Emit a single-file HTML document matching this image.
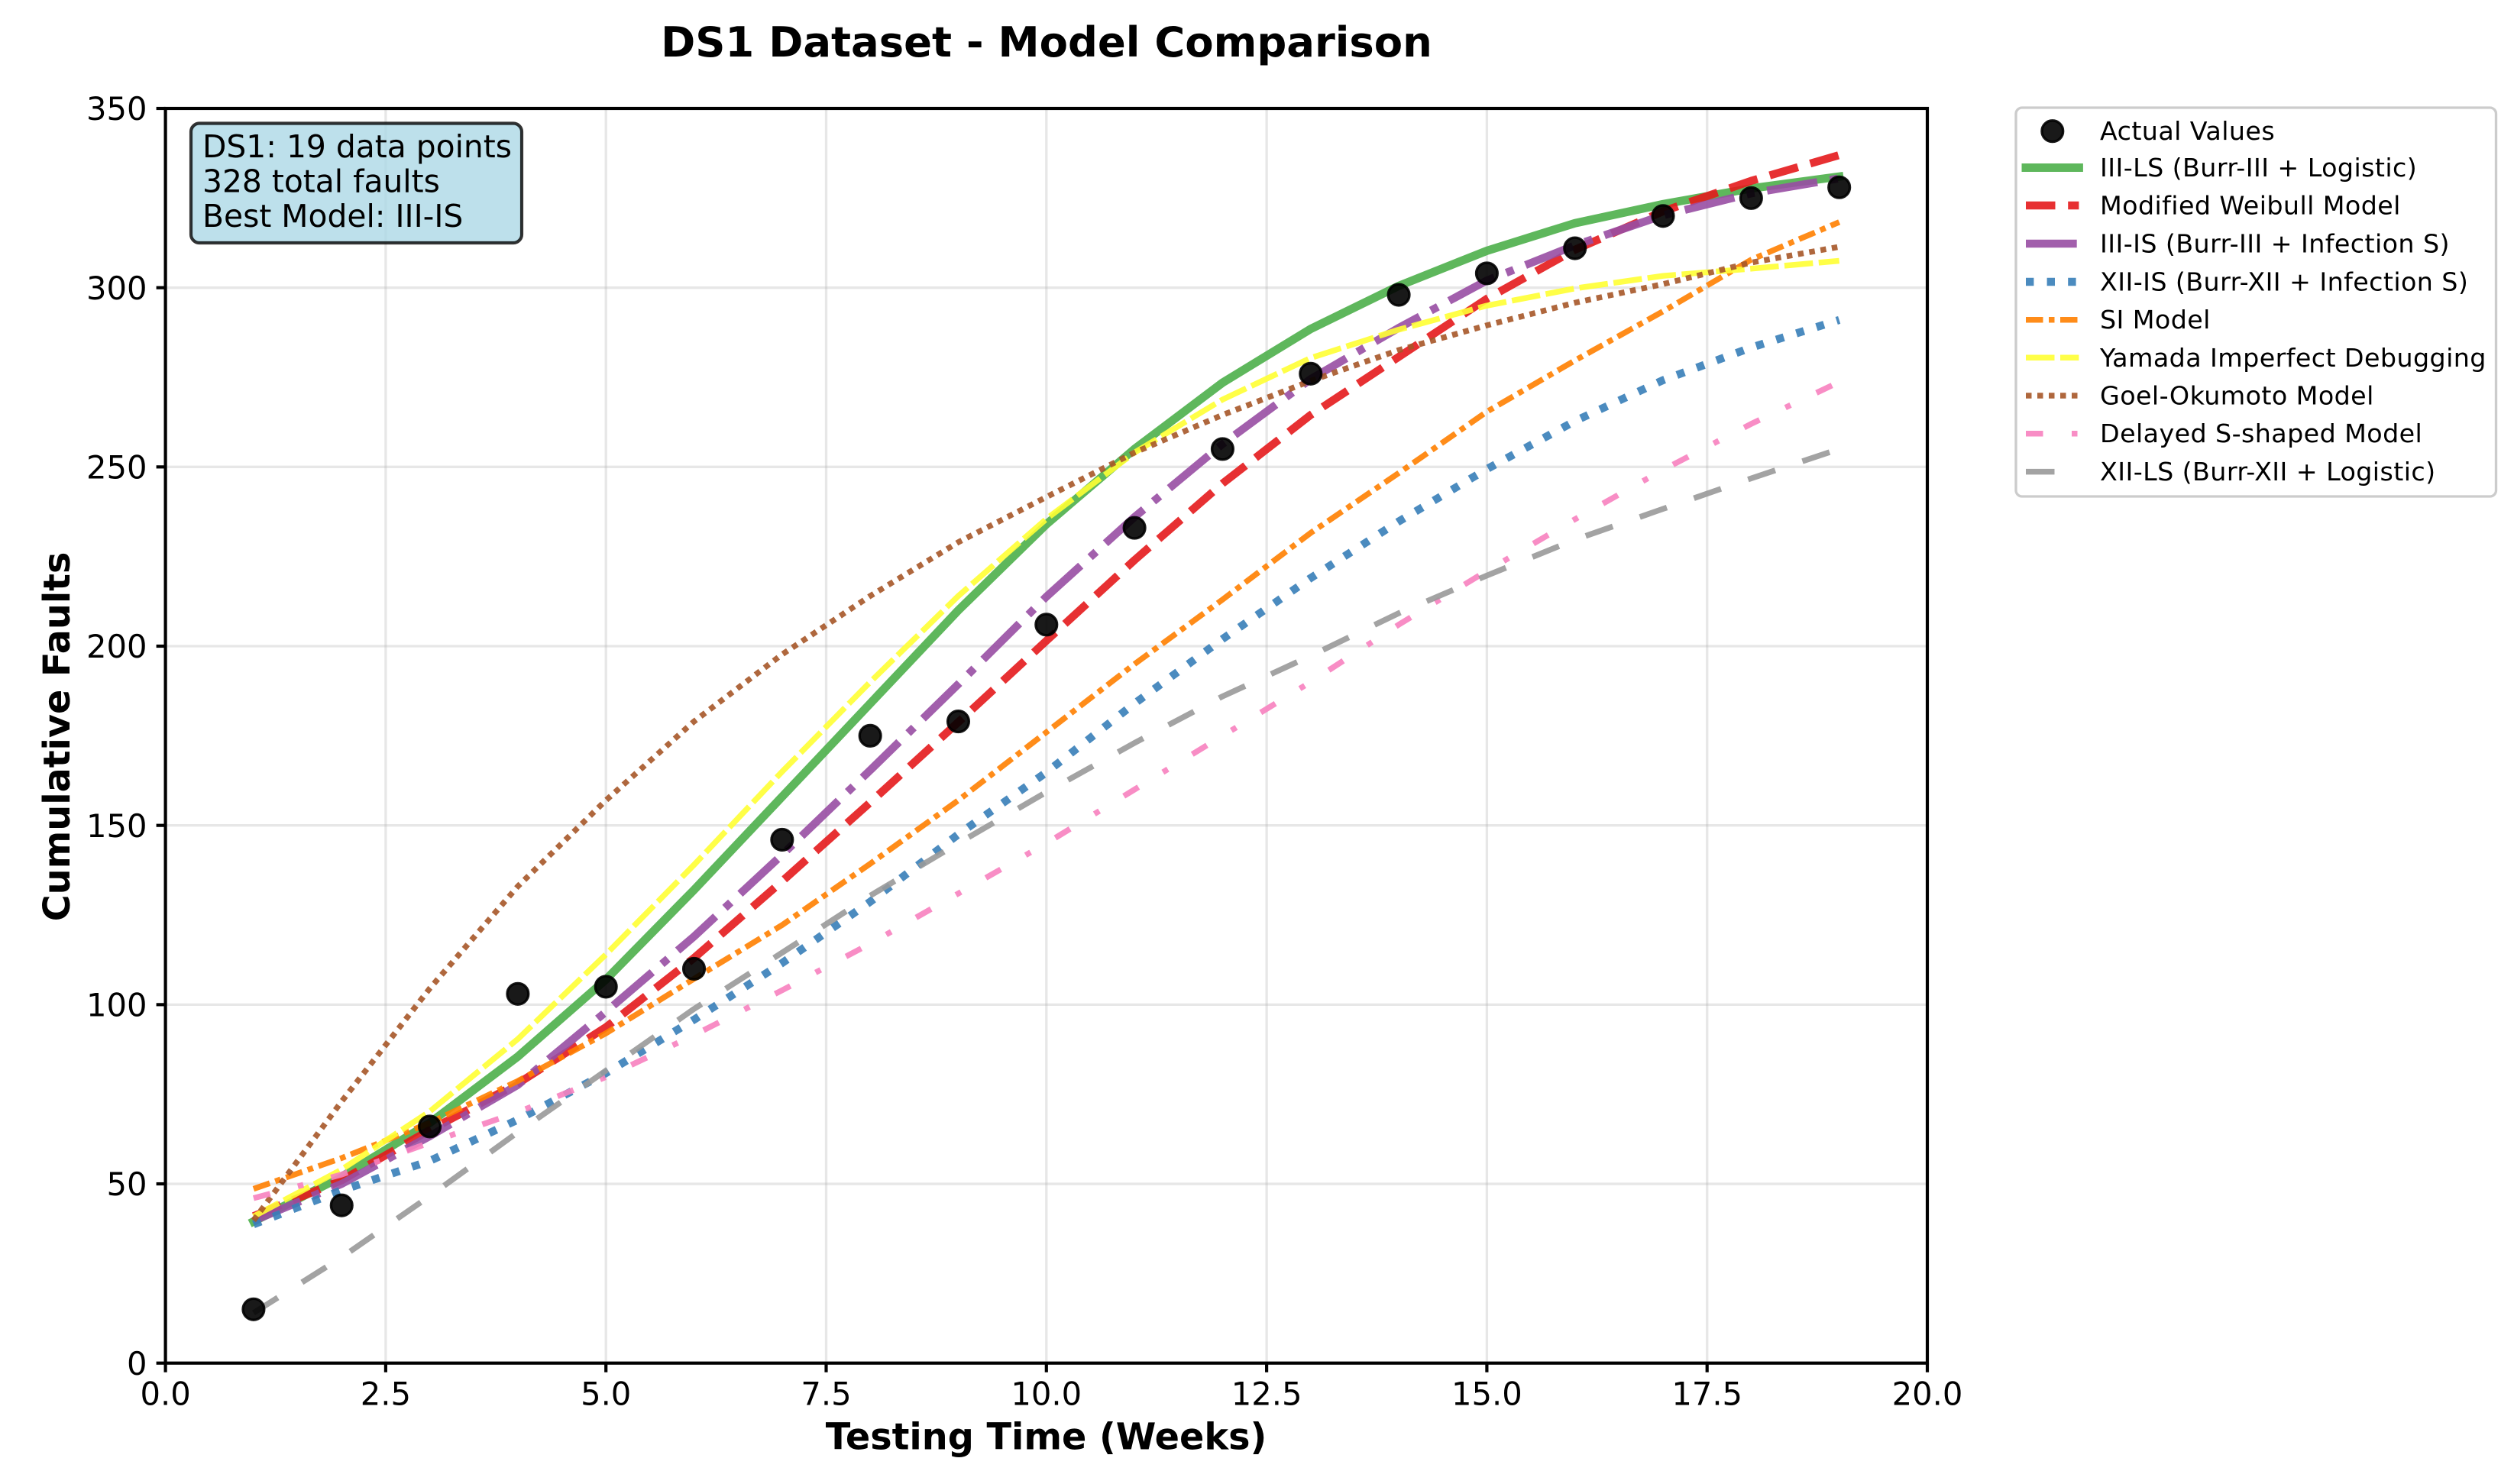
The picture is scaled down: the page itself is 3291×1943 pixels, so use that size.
<!DOCTYPE html>
<html lang="en">
<head>
<meta charset="utf-8">
<title>DS1 Dataset - Model Comparison</title>
<style>
html,body{margin:0;padding:0;background:#fff;}
svg{display:block;}
text{font-family:"DejaVu Sans","Liberation Sans",sans-serif;fill:#000;}
.b{font-weight:700;}
.lg{font-size:33.33px;letter-spacing:0.4px;}
.tk{font-size:41.67px;}
</style>
</head>
<body>
<svg id="chart" xmlns="http://www.w3.org/2000/svg" width="3291" height="1943" viewBox="0 0 3291 1943">
  <rect x="0" y="0" width="3291" height="1943" fill="#fff"/>
  <text class="b" x="1370" y="74" font-size="54.4" text-anchor="middle">DS1 Dataset - Model Comparison</text>
  <g id="grid"></g>
  <g id="series"></g>
  <g id="points"></g>

  <g>
    <rect x="250" y="161.5" width="433" height="156.5" rx="11" ry="11" fill="#add8e6" fill-opacity="0.8" stroke="#000" stroke-opacity="0.8" stroke-width="4.17"/>
    <text x="265" y="206" font-size="40.8">DS1: 19 data points</text>
    <text x="265" y="251.5" font-size="40.8">328 total faults</text>
    <text x="265" y="297" font-size="40.8">Best Model: III-IS</text>
  </g>

  <rect x="216.6" y="142" width="2306.4" height="1642.7" fill="none" stroke="#000" stroke-width="4.17"/>
  <g id="ticks"></g>

  <text class="b" x="1369.5" y="1897.3" font-size="47.7" text-anchor="middle">Testing Time (Weeks)</text>
  <text class="b" transform="translate(91,964.5) rotate(-90)" x="0" y="0" font-size="47.7" text-anchor="middle">Cumulative Faults</text>

  <g>
    <rect x="2639" y="141" width="628.5" height="509" rx="8" ry="8" fill="#fff" fill-opacity="0.8" stroke="#ccc" stroke-width="3.33"/>
    <g>
      <circle cx="2686.8" cy="171.7" r="13.9" fill="#000" fill-opacity="0.9" stroke="#000" stroke-opacity="0.9" stroke-width="3.3"/>
      <text class="lg" x="2749" y="183">Actual Values</text>
    </g>
    <g>
      <line x1="2652" y1="219.5" x2="2721.4" y2="219.5" stroke="#4daf4a" stroke-opacity="0.9" stroke-width="11" stroke-linecap="square"/>
      <text class="lg" x="2749" y="231">III-LS (Burr-III + Logistic)</text>
    </g>
    <g>
      <line x1="2652" y1="269" x2="2721.4" y2="269" stroke="#e41a1c" stroke-opacity="0.9" stroke-width="10.42" stroke-dasharray="38.5 16.7"/>
      <text class="lg" x="2749" y="280.5">Modified Weibull Model</text>
    </g>
    <g>
      <line x1="2652" y1="319" x2="2721.4" y2="319" stroke="#984ea3" stroke-opacity="0.9" stroke-width="10.42" stroke-dasharray="66.7 16.7 10.4 16.7"/>
      <text class="lg" x="2749" y="330.5">III-IS (Burr-III + Infection S)</text>
    </g>
    <g>
      <line x1="2652" y1="369" x2="2721.4" y2="369" stroke="#377eb8" stroke-opacity="0.9" stroke-width="10.42" stroke-dasharray="10.4 17.2"/>
      <text class="lg" x="2749" y="380.5">XII-IS (Burr-XII + Infection S)</text>
    </g>
    <g>
      <line x1="2652" y1="418.7" x2="2721.4" y2="418.7" stroke="#ff7f00" stroke-opacity="0.9" stroke-width="7.5" stroke-dasharray="22.5 7.5 7.5 7.5"/>
      <text class="lg" x="2749" y="430">SI Model</text>
    </g>
    <g>
      <line x1="2652" y1="468.3" x2="2721.4" y2="468.3" stroke="#ffff33" stroke-opacity="0.9" stroke-width="7.5" stroke-dasharray="37.5 7.5"/>
      <text class="lg" x="2749" y="480">Yamada Imperfect Debugging</text>
    </g>
    <g>
      <line x1="2652" y1="518" x2="2721.4" y2="518" stroke="#a65628" stroke-opacity="0.9" stroke-width="7.5" stroke-dasharray="7.5 7.5"/>
      <text class="lg" x="2749" y="529.5">Goel-Okumoto Model</text>
    </g>
    <g>
      <line x1="2652" y1="567.7" x2="2721.4" y2="567.7" stroke="#f781bf" stroke-opacity="0.9" stroke-width="7.5" stroke-dasharray="22.5 37.5 7.5 37.5"/>
      <text class="lg" x="2749" y="579.2">Delayed S-shaped Model</text>
    </g>
    <g>
      <line x1="2652" y1="617.6" x2="2721.4" y2="617.6" stroke="#999999" stroke-opacity="0.9" stroke-width="7.5" stroke-dasharray="37.5 37.5"/>
      <text class="lg" x="2749" y="629">XII-LS (Burr-XII + Logistic)</text>
    </g>
  </g>
</svg>
<script>
const weeks = [1,2,3,4,5,6,7,8,9,10,11,12,13,14,15,16,17,18,19];
const actualValues = [15,44,66,103,105,110,146,175,179,206,233,255,276,298,304,311,320,325,328];
const iiiLs = [39.5,52,67,85.5,107,132,158,184,210,234,255,273.5,288.5,300.5,310.3,318,323.3,327.7,331];
const modifiedWeibull = [41,51,65,78,93.7,113,134.4,156.4,178.8,201.5,224,245.4,264.5,280.7,296.9,310.6,321.3,329.8,337];
const iiiIs = [39.7,50,63.3,77.6,98,119,141.8,165.4,189.4,213.8,236,256.4,274.5,288.8,302,311.8,320.2,326.3,330.5];
const xiiIs = [38.7,48.2,56.4,67.9,80.9,95.8,111.6,128.7,147.5,164.8,184,202,219,234.8,249.4,262.8,274.2,283.3,291];
const siModel = [48.6,57.2,67,78.7,92,107.2,122.2,139.3,157,176,195,213,231.6,248.3,265.4,279.7,293.4,307.8,318.3];
const yamada = [40.9,54,70.2,90.4,114,139,165,190,214,235.5,254,268.8,280.4,288.3,295,299.8,303.3,305.3,307.5];
const goelOkumoto = [39.8,73,104.5,133,157,179,197.7,214,229,241.6,254,264.5,274,282.6,289.5,295.8,301,307,311.4];
const delayedS = [46,52.6,61.5,70,79.8,91.5,104,117,131,145,160,175,190,206,221,235.4,249.2,262,273.7];
const xiiLs = [14,29.5,46.6,64.4,81.6,98.8,114.5,130.4,145,159.3,173,186,197.3,209.2,219.7,229.7,238.3,246.8,255];
const xTickValues = [0,2.5,5,7.5,10,12.5,15,17.5,20];
const xTickLabels = ["0.0","2.5","5.0","7.5","10.0","12.5","15.0","17.5","20.0"];
const yTickValues = [0,50,100,150,200,250,300,350];
const yTickLabels = ["0","50","100","150","200","250","300","350"];

const NS = 'http://www.w3.org/2000/svg';
const plot = {left:216.6, right:2523, top:142, bottom:1784.7, xMax:20, yMax:350};
function xScale(v){ return plot.left + (v / plot.xMax) * (plot.right - plot.left); }
function yScale(v){ return plot.bottom - (v / plot.yMax) * (plot.bottom - plot.top); }
function make(tag, attrs){
  const el = document.createElementNS(NS, tag);
  for (const k in attrs) el.setAttribute(k, attrs[k]);
  return el;
}

const seriesStyles = [
  {name:'curve-iii-ls', values:iiiLs, color:'#4daf4a', width:11, dash:'none'},
  {name:'curve-modified-weibull', values:modifiedWeibull, color:'#e41a1c', width:10.42, dash:'38.5 16.7'},
  {name:'curve-iii-is', values:iiiIs, color:'#984ea3', width:10.42, dash:'66.7 16.7 10.4 16.7'},
  {name:'curve-xii-is', values:xiiIs, color:'#377eb8', width:10.42, dash:'10.4 17.2'},
  {name:'curve-si-model', values:siModel, color:'#ff7f00', width:7.5, dash:'22.5 7.5 7.5 7.5'},
  {name:'curve-yamada', values:yamada, color:'#ffff33', width:7.5, dash:'37.5 7.5'},
  {name:'curve-goel-okumoto', values:goelOkumoto, color:'#a65628', width:7.5, dash:'7.5 7.5'},
  {name:'curve-delayed-s', values:delayedS, color:'#f781bf', width:7.5, dash:'22.5 37.5 7.5 37.5'},
  {name:'curve-xii-ls', values:xiiLs, color:'#999999', width:7.5, dash:'37.5 37.5'}
];

const gridG = document.getElementById('grid');
const ticksG = document.getElementById('ticks');
const seriesG = document.getElementById('series');
const pointsG = document.getElementById('points');

xTickValues.forEach(function(v, i){
  const px = xScale(v);
  const g = make('line', {x1:px, x2:px, y1:plot.top, y2:plot.bottom, stroke:'#b0b0b0', 'stroke-opacity':0.3, 'stroke-width':3.33});
  
  
  gridG.appendChild(g);
  const t = make('line', {x1:px, x2:px, y1:plot.bottom, y2:plot.bottom + 12, stroke:'#000', 'stroke-width':4.17});
  
  
  ticksG.appendChild(t);
  const l = make('text', {x:px, y:1839.5, 'text-anchor':'middle', class:'tk'});
  
  
  l.textContent = xTickLabels[i];
  ticksG.appendChild(l);
});

yTickValues.forEach(function(v, i){
  const py = yScale(v);
  const g = make('line', {x1:plot.left, x2:plot.right, y1:py, y2:py, stroke:'#b0b0b0', 'stroke-opacity':0.3, 'stroke-width':3.33});
  
  
  gridG.appendChild(g);
  const t = make('line', {x1:plot.left - 12, x2:plot.left, y1:py, y2:py, stroke:'#000', 'stroke-width':4.17});
  
  
  ticksG.appendChild(t);
  const l = make('text', {x:192.5, y:py + 15.2, 'text-anchor':'end', class:'tk'});
  
  
  l.textContent = yTickLabels[i];
  ticksG.appendChild(l);
});

seriesStyles.forEach(function(s){
  const pts = weeks.map(function(w, i){ return xScale(w).toFixed(2) + ',' + yScale(s.values[i]).toFixed(2); }).join(' ');
  const solid = s.dash === 'none';
  const line = make('polyline', {points:pts, fill:'none', stroke:s.color, 'stroke-opacity':0.9, 'stroke-width':s.width, 'stroke-linejoin':'round', 'stroke-linecap':solid ? 'square' : 'butt'});
  if (!solid) line.setAttribute('stroke-dasharray', s.dash);
  
  
  seriesG.appendChild(line);
});

weeks.forEach(function(w, i){
  const c = make('circle', {cx:xScale(w), cy:yScale(actualValues[i]), r:13.9, fill:'#000', 'fill-opacity':0.9, stroke:'#000', 'stroke-opacity':0.9, 'stroke-width':3.3});
  
  
  pointsG.appendChild(c);
});
</script>
</body>
</html>
